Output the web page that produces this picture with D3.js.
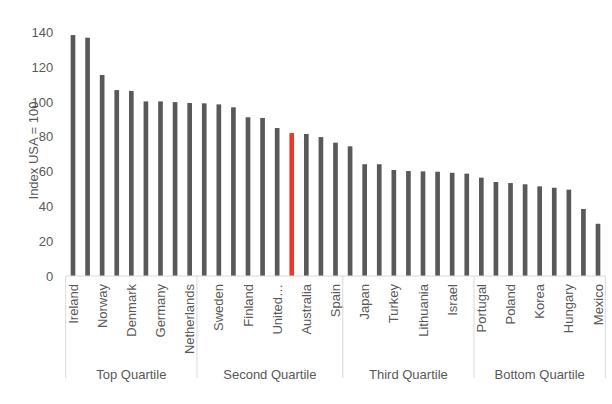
<!DOCTYPE html>
<html><head><meta charset="utf-8">
<script src="https://cdn.jsdelivr.net/npm/d3@7"></script>
<style>
html,body{margin:0;padding:0;background:#fff;}
svg{display:block;font-family:"Liberation Sans",Arial,Helvetica,sans-serif;}
</style></head>
<body><svg id="chart" width="612" height="404"></svg>
<script>
// Bar values (Index USA = 100), in display order
const values = [138.4, 136.9, 115.5, 106.8, 106.3, 100.3, 100.3, 99.9, 99.4, 99.2,
                98.6, 96.9, 91.2, 90.8, 85.0, 82.1, 81.6, 79.8, 76.6, 74.5,
                64.2, 64.2, 60.9, 60.3, 60.1, 59.9, 59.3, 58.8, 56.5, 54.0,
                53.4, 52.7, 51.5, 50.7, 49.6, 38.5, 30.0];
// Category labels as shown (hidden labels left blank)
const labels = ["Ireland", "", "Norway", "", "Denmark", "", "Germany", "", "Netherlands", "",
                "Sweden", "", "Finland", "", "United\u2026", "", "Australia", "", "Spain", "",
                "Japan", "", "Turkey", "", "Lithuania", "", "Israel", "", "Portugal", "",
                "Poland", "", "Korea", "", "Hungary", "", "Mexico"];
const highlightIndex = 15;
const groupNames = ["Top Quartile", "Second Quartile", "Third Quartile", "Bottom Quartile"];
const groupSizes = [9, 10, 9, 9];
const yTicks = [0, 20, 40, 60, 80, 100, 120, 140];
const yTitle = "Index USA = 100";

const svg = d3.select("#chart");
const textColor = "#595959";
const left = 65.7, right = 605.3, baseY = 276, topY = 32.3;

const x = d3.scaleBand().domain(d3.range(values.length)).range([left, right])
  .paddingInner(0.68).paddingOuter(0.34);
const y = d3.scaleLinear().domain([0, 140]).range([baseY, topY]);

// bars
svg.append("g").selectAll("rect").data(values).join("rect")
  .attr("x", (d, i) => x(i))
  .attr("width", x.bandwidth())
  .attr("y", d => y(d))
  .attr("height", d => baseY - y(d))
  .attr("fill", (d, i) => i === highlightIndex ? "#e8392b" : "#595959");

// y axis
const yAxis = svg.append("g").attr("transform", `translate(${left},0)`)
  .call(d3.axisLeft(y).tickValues(yTicks).tickSize(0).tickPadding(12.4));
yAxis.select(".domain").remove();
yAxis.selectAll("text").attr("fill", textColor).style("font-size", "13px");

// y title
svg.append("text").attr("transform", "translate(33,150.5) rotate(-90)")
  .attr("text-anchor", "middle").attr("dy", "0.35em")
  .attr("fill", textColor).style("font-size", "13px").text(yTitle);

// x axis
const xAxis = svg.append("g").attr("transform", `translate(0,${baseY})`)
  .call(d3.axisBottom(x).tickSize(0).tickFormat(i => labels[i]));
xAxis.select(".domain").remove();
xAxis.selectAll("text")
  .attr("transform", "rotate(-90)")
  .attr("x", -8).attr("y", 0).attr("dy", "0.35em")
  .style("text-anchor", "end").style("font-size", "13px")
  .attr("fill", textColor);

svg.append("line").attr("x1", left).attr("x2", right)
  .attr("y1", baseY).attr("y2", baseY)
  .attr("stroke", "#d9d9d9").attr("stroke-width", 1);

// group dividers and labels
const step = x.step();
const boundary = i => i >= values.length ? right : x(i) - (step - x.bandwidth()) / 2;
let start = 0;
const bounds = [0];
groupSizes.forEach(s => { start += s; bounds.push(start); });
bounds.forEach(b => {
  svg.append("line").attr("x1", boundary(b)).attr("x2", boundary(b))
    .attr("y1", baseY).attr("y2", 378)
    .attr("stroke", "#d9d9d9").attr("stroke-width", 1);
});
groupNames.forEach((g, k) => {
  const cx = (boundary(bounds[k]) + boundary(bounds[k + 1])) / 2;
  svg.append("text").attr("x", cx).attr("y", 379)
    .attr("text-anchor", "middle").attr("fill", textColor)
    .style("font-size", "13px").text(g);
});
</script></body></html>
